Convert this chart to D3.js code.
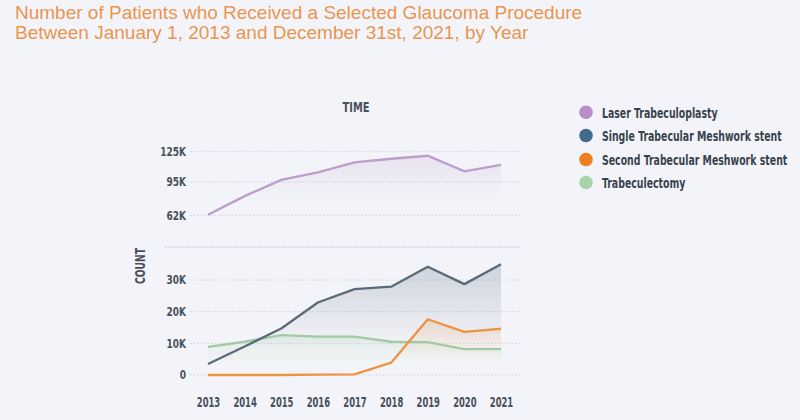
<!DOCTYPE html>
<html><head><meta charset="utf-8">
<script src="https://cdn.jsdelivr.net/npm/d3@7"></script>
<style>
html,body{margin:0;padding:0;background:#f3f4f9;}
svg{display:block;}
</style></head>
<body>
<svg id="chart" width="800" height="420"></svg>
<script>
const years = [2013,2014,2015,2016,2017,2018,2019,2020,2021];
const laser = [62500,81000,97000,104500,114500,118000,121000,105500,112000];
const singleStent = [3500,9000,14700,22900,27100,27900,34200,28700,35000];
const secondStent = [0,0,0,100,200,3900,17600,13600,14600];
const trabeculectomy = [8900,10500,12600,12100,12100,10500,10400,8200,8200];
const upperTicks = [62000,95000,125000];
const upperTickLabels = ["62K","95K","125K"];
const lowerTicks = [0,10000,20000,30000];
const lowerTickLabels = ["0","10K","20K","30K"];
const seriesNames = ["Laser Trabeculoplasty","Single Trabecular Meshwork stent","Second Trabecular Meshwork stent","Trabeculectomy"];
const legendColors = ["#b98dca","#3f6a8c","#f07f22","#a9d3a9"];
const lineColors = ["#bc9dcb","#5a6a7a","#ee9242","#a3cba3"];

const svg = d3.select("#chart");
const W=800,H=420;
svg.append("rect").attr("width",W).attr("height",H).attr("fill","#f3f4f9");

const narrow = "'DejaVu Sans Condensed','Liberation Sans Narrow','DejaVu Sans',sans-serif";
const txtCol = "#46505b";

// horizontally squeeze a text around its anchor x using a transform
function squeeze(node, factor, ax){
  const sel = d3.select(node);
  const prev = sel.attr("transform") || "";
  sel.attr("transform", prev + ` translate(${ax},0) scale(${factor},1) translate(${-ax},0)`);
}

// title
const title = svg.append("text").attr("x",15).attr("fill","#ea9450")
  .style("font-family","'Liberation Sans',Arial,sans-serif").style("font-size","19px");
title.append("tspan").attr("x",15).attr("y",18.5).text("Number of Patients who Received a Selected Glaucoma Procedure");
title.append("tspan").attr("x",15).attr("y",39).text("Between January 1, 2013 and December 31st, 2021, by Year");

const x = d3.scaleLinear().domain([2013,2021]).range([208,501]);
const yU = d3.scaleLinear().domain([62000,125000]).range([215.3,151.7]);
const yL = d3.scaleLinear().domain([0,30000]).range([375,280]);

const gridX0=190, gridX1=520;

// defs gradients
const defs = svg.append("defs");
lineColors.forEach((c,i)=>{
  const g = defs.append("linearGradient").attr("id","grad"+i).attr("x1",0).attr("y1",0).attr("x2",0).attr("y2",1);
  g.append("stop").attr("offset","0%").attr("stop-color",c).attr("stop-opacity",i===1?0.24:0.2);
  g.append("stop").attr("offset","75%").attr("stop-color",c).attr("stop-opacity",0);
});

function tickText(g, yPos, label){
  const t = g.append("text").attr("x",186).attr("y",yPos).attr("dy","0.36em").attr("text-anchor","end")
    .attr("fill",txtCol).style("font-family",narrow).style("font-weight","bold").style("font-size","12.5px")
    .text(label);
  squeeze(t.node(), 0.8, 186);
}
const gU = svg.append("g");
upperTicks.forEach((t,i)=>{
  gU.append("line").attr("x1",gridX0).attr("x2",gridX1).attr("y1",yU(t)).attr("y2",yU(t))
    .attr("stroke","#cdd1da").attr("stroke-width",1).attr("stroke-dasharray","1.5,2");
  tickText(gU, yU(t), upperTickLabels[i]);
});
const gL = svg.append("g");
lowerTicks.forEach((t,i)=>{
  gL.append("line").attr("x1",gridX0).attr("x2",gridX1).attr("y1",yL(t)).attr("y2",yL(t))
    .attr("stroke","#cdd1da").attr("stroke-width",1).attr("stroke-dasharray","1.5,2");
  tickText(gL, yL(t), lowerTickLabels[i]);
});
// separator
svg.append("line").attr("x1",165).attr("x2",gridX1).attr("y1",247).attr("y2",247)
  .attr("stroke","#b6bcc6").attr("stroke-width",1).attr("stroke-dasharray","1.5,1.5");

// x axis labels
const xAxis = d3.axisBottom(x).tickValues(years).tickFormat(d3.format("d")).tickSize(0).tickPadding(0);
const gx = svg.append("g").attr("transform","translate(0,397)").call(xAxis);
gx.select(".domain").remove();
gx.selectAll("text").attr("fill",txtCol).style("font-family",narrow).style("font-weight","bold").style("font-size","14px");
gx.selectAll("text").each(function(){
  const w = this.getComputedTextLength();
  squeeze(this, 23.5/w, 0);
});

// axis titles
const timeT = svg.append("text").attr("x",356).attr("y",107).attr("dy","0.36em").attr("text-anchor","middle")
  .attr("fill",txtCol).style("font-family",narrow).style("font-weight","bold").style("font-size","14px")
  .text("TIME");
squeeze(timeT.node(), 27/timeT.node().getComputedTextLength(), 356);
const cntT = svg.append("text").attr("x",0).attr("y",0).attr("dy","0.36em").attr("text-anchor","middle")
  .attr("fill",txtCol).style("font-family",narrow).style("font-weight","bold").style("font-size","14px")
  .text("COUNT");
const cw = cntT.node().getComputedTextLength();
cntT.attr("transform",`translate(140,266) rotate(-90) scale(${36/cw},1)`);

// series
const lowerSeries = [singleStent, secondStent, trabeculectomy];
const areaU = d3.area().x((d,i)=>x(years[i])).y0(yU(62000)).y1(d=>yU(d));
const lineU = d3.line().x((d,i)=>x(years[i])).y(d=>yU(d));
svg.append("path").datum(laser).attr("d",areaU).attr("fill","url(#grad0)");
const areaL = d3.area().x((d,i)=>x(years[i])).y0(yL(0)).y1(d=>yL(d));
const lineL = d3.line().x((d,i)=>x(years[i])).y(d=>yL(d));
[2,1,0].forEach(k=>{
  svg.append("path").datum(lowerSeries[k]).attr("d",areaL).attr("fill","url(#grad"+(k+1)+")");
});
svg.append("path").datum(laser).attr("d",lineU).attr("fill","none").attr("stroke",lineColors[0]).attr("stroke-width",2.3);
[2,0,1].forEach(k=>{
  svg.append("path").datum(lowerSeries[k]).attr("d",lineL).attr("fill","none").attr("stroke",lineColors[k+1]).attr("stroke-width",2.3).attr("stroke-linejoin","round");
});

// legend
const legY = [112.3,135.5,159.5,182.5];
const lg = svg.append("g");
const legTexts = [];
seriesNames.forEach((n,i)=>{
  lg.append("circle").attr("cx",586).attr("cy",legY[i]).attr("r",6.8).attr("fill",legendColors[i]);
  const t = lg.append("text").attr("x",602).attr("y",legY[i]).attr("dy","0.36em").attr("fill","#39434e")
    .style("font-family",narrow).style("font-weight","bold").style("font-size","14.5px").text(n);
  legTexts.push(t.node());
});
const legFactor = 180/legTexts[1].getComputedTextLength();
legTexts.forEach(n=>squeeze(n, legFactor, 602));
</script>
</body></html>
